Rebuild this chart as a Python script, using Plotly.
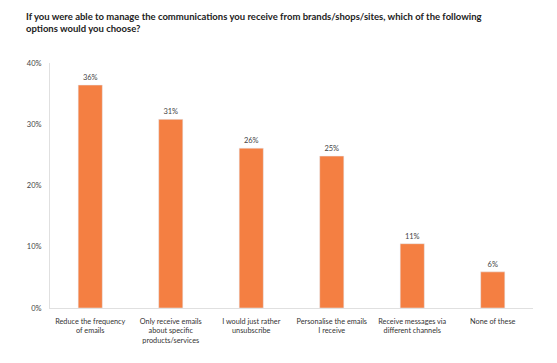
import plotly.graph_objects as go

categories = ["Reduce the frequency<br>of emails", "Only receive emails<br>about specific<br>products/services",
              "I would just rather<br>unsubscribe", "Personalise the emails<br>I receive",
              "Receive messages via<br>different channels", "None of these"]
values = [36.4, 30.8, 26.1, 24.8, 10.5, 5.9]
labels = ["36%", "31%", "26%", "25%", "11%", "6%"]
yticks = [0, 10, 20, 30, 40]
yticklabels = ["0%", "10%", "20%", "30%", "40%"]

W, H = 541, 347
L, R, T, B = 42, 16, 55, 47
pw, ph = W - L - R, H - T - B

fig = go.Figure(go.Bar(
    x=categories, y=values, text=labels, textposition="outside",
    textfont=dict(size=7.5, color="#444"), cliponaxis=False,
    marker=dict(color="#F47F42"), width=0.3,
))
fig.update_layout(
    width=W, height=H, margin=dict(l=L, r=R, t=T, b=B, autoexpand=False),
    plot_bgcolor="white", paper_bgcolor="white", showlegend=False,
    font=dict(family="Lato", color="#333"),
)
fig.update_yaxes(range=[0, 40], tickvals=yticks, ticktext=yticklabels, showgrid=False,
                 showline=True, linecolor="#e0e0e0", linewidth=1, ticks="",
                 tickfont=dict(size=7.5, color="#444"), ticklabelstandoff=6, zeroline=False)
fig.update_xaxes(showline=True, linecolor="#e0e0e0", linewidth=1, ticks="",
                 tickfont=dict(size=7.3, color="#333"), tickangle=0, automargin=False,
                 ticklabelstandoff=6)
fig.add_annotation(text="<b>If you were able to manage the communications you receive from brands/shops/sites, which of the following<br>options would you choose?</b>",
                   xref="paper", yref="paper", x=(16 - L) / pw, y=1 + (T - 1) / ph, xanchor="left", yanchor="top",
                   showarrow=False, align="left", font=dict(size=9.5, color="#222", family="Lato"))
fig.write_html("out.html")
